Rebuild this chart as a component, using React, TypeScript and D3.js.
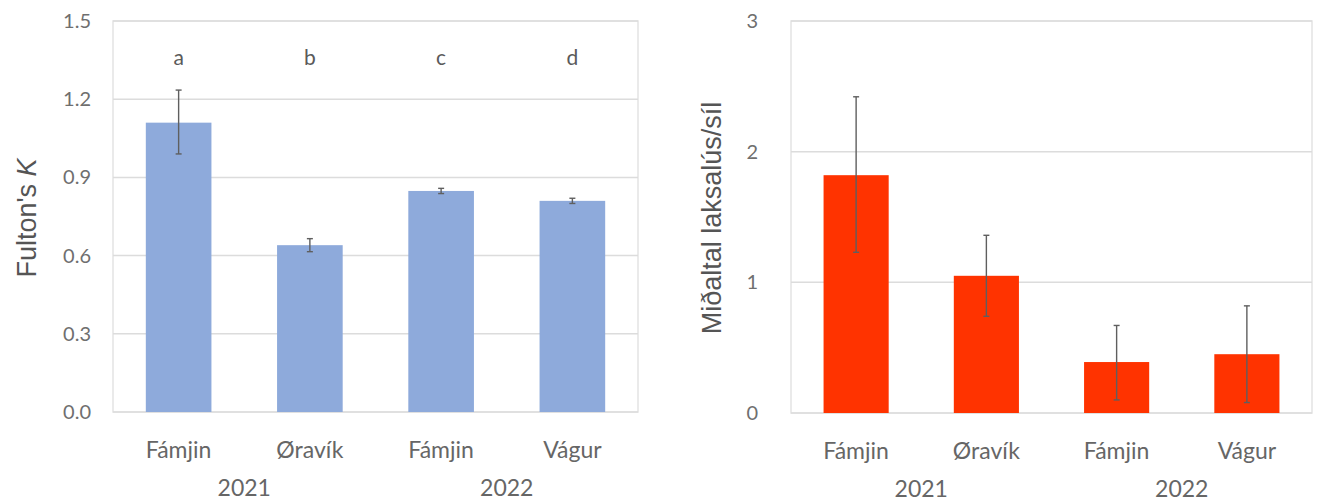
import React from "react";
import * as d3 from "d3";

const sites = ["Fámjin", "Øravík", "Fámjin", "Vágur"];
const siteYears = ["2021", "2021", "2022", "2022"];
const years = ["2021", "2022"];
const letters = ["a", "b", "c", "d"];

const kMean = [1.11, 0.64, 0.848, 0.81];
const kLow = [0.99, 0.615, 0.838, 0.8];
const kHigh = [1.235, 0.665, 0.858, 0.82];
const kTicks = [0, 0.3, 0.6, 0.9, 1.2, 1.5];

const liceMean = [1.82, 1.05, 0.39, 0.45];
const liceLow = [1.23, 0.74, 0.1, 0.08];
const liceHigh = [2.42, 1.36, 0.67, 0.82];
const liceTicks = [0, 1, 2, 3];

const TICK_FONT = "Lato, 'Open Sans', sans-serif";
const TITLE_FONT = "'Liberation Sans', Arial, sans-serif";

type PanelProps = {
  x0: number;
  x1: number;
  y0: number;
  y1: number;
  yMax: number;
  ticks: number[];
  tickFmt: (v: number) => string;
  mean: number[];
  low: number[];
  high: number[];
  color: string;
  title: React.ReactNode;
  titleX: number;
  titleY: number;
  tickX: number;
  showLetters: boolean;
};

function Panel(p: PanelProps) {
  const x = d3.scaleBand<number>().domain(d3.range(sites.length)).range([p.x0, p.x1]).paddingInner(0.5).paddingOuter(0.25);
  const y = d3.scaleLinear().domain([0, p.yMax]).range([p.y1, p.y0]);
  const bw = x.bandwidth();
  return (
    <g>
      <rect x={p.x0} y={p.y0} width={p.x1 - p.x0} height={p.y1 - p.y0} fill="none" stroke="#e3e3e3" strokeWidth={1.5} />
      {p.ticks.map((t, i) => (
        <g key={i}>
          <line x1={p.x0} x2={p.x1} y1={y(t)} y2={y(t)} stroke="#dcdcdc" strokeWidth={1.5} />
          <text x={p.tickX} y={y(t)} dy="0.35em" textAnchor="end" fontFamily={TICK_FONT} fontSize={20} fill="#6f6f6f">
            {p.tickFmt(t)}
          </text>
        </g>
      ))}
      {p.mean.map((v, i) => (
        <rect key={i} x={x(i)!} y={y(v)} width={bw} height={y(0) - y(v)} fill={p.color} />
      ))}
      {p.mean.map((v, i) => {
        const cx = x(i)! + bw / 2;
        return (
          <g key={i} stroke="#5f5f5f" strokeWidth={1.4}>
            <line x1={cx} x2={cx} y1={y(p.low[i])} y2={y(p.high[i])} />
            <line x1={cx - 3} x2={cx + 3} y1={y(p.low[i])} y2={y(p.low[i])} />
            <line x1={cx - 3} x2={cx + 3} y1={y(p.high[i])} y2={y(p.high[i])} />
          </g>
        );
      })}
      {p.showLetters &&
        letters.map((l, i) => (
          <text key={i} x={x(i)! + bw / 2} y={y(1.36)} dy="0.35em" textAnchor="middle" fontFamily={TICK_FONT} fontSize={21} fill="#5a5a5a">
            {l}
          </text>
        ))}
      {sites.map((s, i) => (
        <text key={i} x={x(i)! + bw / 2} y={p.y1 + 46} textAnchor="middle" fontFamily={TICK_FONT} fontSize={23} fill="#666666">
          {s}
        </text>
      ))}
      {years.map((yr) => {
        const idx = siteYears.map((s, i) => (s === yr ? i : -1)).filter((i) => i >= 0);
        const cx = (x(idx[0])! + x(idx[idx.length - 1])! + bw) / 2;
        return (
          <text key={yr} x={cx} y={p.y1 + 84} textAnchor="middle" fontFamily={TICK_FONT} fontSize={23} fill="#666666">
            {yr}
          </text>
        );
      })}
      <text
        transform={`translate(${p.titleX},${p.titleY}) rotate(-90)`}
        textAnchor="middle"
        dy="0.35em"
        fontFamily={TITLE_FONT}
        fontSize={27}
        fill="#555555"
      >
        {p.title}
      </text>
    </g>
  );
}

export default function App() {
  return (
    <svg width={1319} height={502} style={{ display: "block", position: "absolute", left: 0, top: 0 }}>
      <rect width={1319} height={502} fill="#ffffff" />
      <Panel
        x0={113}
        x1={638}
        y0={21}
        y1={412}
        yMax={1.5}
        ticks={kTicks}
        tickFmt={(v) => d3.format(".1f")(v)}
        mean={kMean}
        low={kLow}
        high={kHigh}
        color="#8eaadb"
        title={
          <>
            Fulton's <tspan fontStyle="italic">K</tspan>
          </>
        }
        titleX={27}
        titleY={218}
        tickX={91}
        showLetters={true}
      />
      <Panel
        x0={791}
        x1={1312}
        y0={21}
        y1={413}
        yMax={3}
        ticks={liceTicks}
        tickFmt={(v) => d3.format("d")(v)}
        mean={liceMean}
        low={liceLow}
        high={liceHigh}
        color="#ff3300"
        title="Miðaltal laksalús/síl"
        titleX={712}
        titleY={218}
        tickX={758}
        showLetters={false}
      />
    </svg>
  );
}
